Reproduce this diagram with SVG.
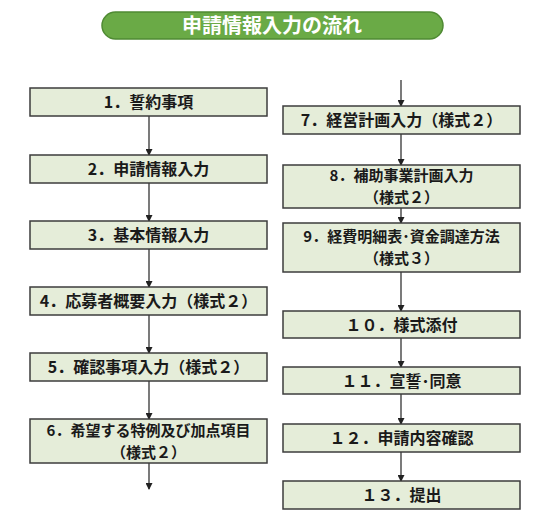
<svg xmlns="http://www.w3.org/2000/svg" width="549" height="524" viewBox="0 0 549 524">
<style>
.box{fill:#e5edd9;stroke:#3c3c3c;stroke-width:1.5}
.t{font-family:"Noto Sans CJK JP","Noto Sans CJK SC",sans-serif;font-weight:bold;font-size:16px;fill:#1a1a1a;text-anchor:middle}
.t2{font-size:15px}
.c{stroke:#222;stroke-width:1.2;fill:none}
</style>
<defs>
<marker id="ah" markerWidth="7" markerHeight="7" refX="6" refY="3.5" orient="auto" markerUnits="userSpaceOnUse">
<path d="M0,0 L7,3.5 L0,7 z" fill="#222"/>
</marker>
</defs>
<rect width="549" height="524" fill="#ffffff"/>
<g id="title">
<rect x="102" y="12" width="341" height="27" rx="13.5" fill="#6aaa46" stroke="#4f8a33" stroke-width="1.5"/>
<text x="272" y="32.5" font-family="Noto Sans CJK JP,sans-serif" font-weight="bold" font-size="20" fill="#ffffff" text-anchor="middle">申請情報入力の流れ</text>
</g>
<g id="connectors">
<line class="c" x1="149" y1="116" x2="149" y2="155" marker-end="url(#ah)"/>
<line class="c" x1="149" y1="183" x2="149" y2="221" marker-end="url(#ah)"/>
<line class="c" x1="149" y1="249" x2="149" y2="287" marker-end="url(#ah)"/>
<line class="c" x1="149" y1="315" x2="149" y2="353" marker-end="url(#ah)"/>
<line class="c" x1="149" y1="381" x2="149" y2="419" marker-end="url(#ah)"/>
<line class="c" x1="149" y1="463" x2="149" y2="489" marker-end="url(#ah)"/>
<line class="c" x1="401" y1="80" x2="401" y2="106" marker-end="url(#ah)"/>
<line class="c" x1="401" y1="134" x2="401" y2="165" marker-end="url(#ah)"/>
<line class="c" x1="401" y1="208" x2="401" y2="223" marker-end="url(#ah)"/>
<line class="c" x1="401" y1="272" x2="401" y2="311" marker-end="url(#ah)"/>
<line class="c" x1="401" y1="338" x2="401" y2="367" marker-end="url(#ah)"/>
<line class="c" x1="401" y1="394" x2="401" y2="424" marker-end="url(#ah)"/>
<line class="c" x1="401" y1="452" x2="401" y2="481" marker-end="url(#ah)"/>
</g>
<g id="n1"><rect class="box" x="30" y="88" width="237" height="28"/><text class="t" x="148.5" y="108">1．誓約事項</text></g>
<g id="n2"><rect class="box" x="30" y="155" width="237" height="28"/><text class="t" x="148.5" y="175">2．申請情報入力</text></g>
<g id="n3"><rect class="box" x="30" y="221" width="237" height="28"/><text class="t" x="148.5" y="241">3．基本情報入力</text></g>
<g id="n4"><rect class="box" x="30" y="287" width="237" height="28"/><text class="t" x="148.5" y="307">4．応募者概要入力（様式２）</text></g>
<g id="n5"><rect class="box" x="30" y="353" width="237" height="28"/><text class="t" x="148.5" y="373">5．確認事項入力（様式２）</text></g>
<g id="n6"><rect class="box" x="30" y="419" width="237" height="44"/><text class="t t2"><tspan x="148.5" y="435.5">6．希望する特例及び加点項目</tspan><tspan x="148.5" y="457.5">（様式２）</tspan></text></g>
<g id="n7"><rect class="box" x="283" y="106" width="237" height="28"/><text class="t" x="401.5" y="126">7．経営計画入力（様式２）</text></g>
<g id="n8"><rect class="box" x="283" y="165" width="237" height="43"/><text class="t t2"><tspan x="401.5" y="181">8．補助事業計画入力</tspan><tspan x="401.5" y="203">（様式２）</tspan></text></g>
<g id="n9"><rect class="box" x="283" y="223" width="237" height="49"/><text class="t t2"><tspan x="401.5" y="242">9．経費明細表･資金調達方法</tspan><tspan x="401.5" y="264">（様式３）</tspan></text></g>
<g id="n10"><rect class="box" x="283" y="311" width="237" height="27"/><text class="t" x="401.5" y="330.5">１０．様式添付</text></g>
<g id="n11"><rect class="box" x="283" y="367" width="237" height="27"/><text class="t" x="401.5" y="386.5">１１．宣誓･同意</text></g>
<g id="n12"><rect class="box" x="283" y="424" width="237" height="28"/><text class="t" x="401.5" y="444">１２．申請内容確認</text></g>
<g id="n13"><rect class="box" x="283" y="481" width="237" height="28"/><text class="t" x="401.5" y="501">１３．提出</text></g>
</svg>
